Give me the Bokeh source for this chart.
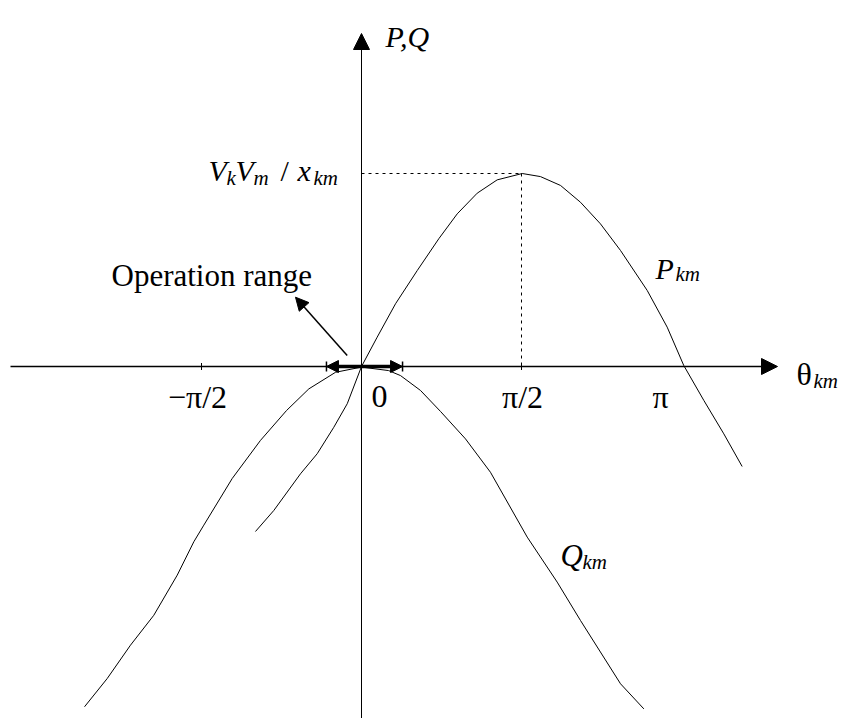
import numpy as np
from bokeh.plotting import figure
from bokeh.models import Range1d, Arrow, NormalHead, ColumnDataSource
from bokeh.core.properties import value
from bokeh.embed import file_html
from bokeh.resources import INLINE

# ---------------- data (theta in rad, P/Q in units of VkVm/xkm) ----------------
theta_P = [-1.041, -0.861, -0.599, -0.435, -0.272, -0.140, 0.0, 0.154, 0.334, 0.547,
           0.759, 0.940, 1.136, 1.332, 1.578, 1.757, 1.954, 2.150, 2.346, 2.543,
           2.805, 3.001, 3.164, 3.361, 3.557, 3.737]
P_km = [-0.855, -0.746, -0.556, -0.452, -0.315, -0.193, 0.0, 0.152, 0.325, 0.497,
        0.662, 0.791, 0.898, 0.967, 1.000, 0.984, 0.938, 0.851, 0.739, 0.601,
        0.394, 0.204, 0.005, -0.176, -0.349, -0.518]

theta_Q = [-2.719, -2.497, -2.268, -2.039, -1.809, -1.646, -1.548, -1.269, -0.992,
           -0.736, -0.517, -0.255, 0.0, 0.265, 0.383, 0.579, 0.776, 1.021, 1.266,
           1.627, 1.921, 2.150, 2.543, 2.772]
Q_km = [-1.763, -1.617, -1.444, -1.289, -1.081, -0.908, -0.822, -0.580, -0.383,
        -0.228, -0.116, -0.030, -0.003, -0.021, -0.047, -0.124, -0.233, -0.375, -0.548,
        -0.884, -1.117, -1.316, -1.644, -1.774]

tick_theta = [-np.pi / 2, np.pi / 2]
label_theta = [-np.pi / 2, 0.0, np.pi / 2, np.pi]
tick_labels = ["\u2212\u03c0/2", "0", "\u03c0/2", "\u03c0"]
peak_theta = np.pi / 2
peak_value = 1.0
op_range = [-0.344, 0.403]

# ---------------- geometry ----------------
W, H = 843, 718
PX_RAD = 160 / (np.pi / 2)      # pixels per radian
PX_UNIT = 193                   # pixels per unit of P/Q
OX, OY = 361, 366               # origin in canvas pixels


def gx(px):
    return (px - OX) / PX_RAD


def gy(py):
    return (OY - py) / PX_UNIT


p = figure(width=W, height=H,
           x_range=Range1d(gx(0), gx(W)), y_range=Range1d(gy(H), gy(0)),
           x_axis_type=None, y_axis_type=None, min_border=0,
           output_backend="svg", toolbar_location=None)
p.grid.visible = False
p.outline_line_color = None
p.background_fill_color = "white"
p.border_fill_color = "white"

FONT = value("Liberation Serif")

# curves
p.line(theta_P, P_km, line_color="black", line_width=1)
p.line(theta_Q, Q_km, line_color="black", line_width=1)

# dotted guides to the peak
p.segment(x0=[0, peak_theta], y0=[peak_value, peak_value],
          x1=[peak_theta, peak_theta], y1=[peak_value, 0],
          line_color="black", line_width=1, line_dash="3 4")

# axes with arrows
p.add_layout(Arrow(end=NormalHead(size=16, fill_color="black", line_color="black"),
                   x_start=gx(10), y_start=0, x_end=gx(777), y_end=0,
                   line_color="black", line_width=1.5))
p.add_layout(Arrow(end=NormalHead(size=16, fill_color="black", line_color="black"),
                   x_start=0, y_start=gy(730), x_end=0, y_end=gy(33),
                   line_color="black", line_width=1))

# ticks
p.scatter(x=tick_theta, y=[0, 0], marker="dash", angle=np.pi / 2, size=7,
          line_color="black", line_width=1)

# operation range
p.add_layout(Arrow(start=NormalHead(size=12, fill_color="black", line_color="black"),
                   end=NormalHead(size=12, fill_color="black", line_color="black"),
                   x_start=op_range[0], y_start=0, x_end=op_range[1], y_end=0,
                   line_color="black", line_width=3.5))
p.scatter(x=op_range, y=[0, 0], marker="dash", angle=np.pi / 2, size=10,
          line_color="black", line_width=1.5)
p.add_layout(Arrow(end=NormalHead(size=13, fill_color="black", line_color="black"),
                   x_start=gx(346.7), y_start=gy(355), x_end=gx(295), y_end=gy(296.7),
                   line_color="black", line_width=1.5))

# tick labels
tl = ColumnDataSource(dict(x=label_theta, y=[0, 0, 0, 0], text=tick_labels,
                           xo=[-4, 18, 1, -21]))
p.text(x="x", y="y", text="text", source=tl, x_offset="xo", y_offset=30,
       text_font=FONT, text_font_size="32px", text_align="center",
       text_baseline="alphabetic", text_color="black")


def label(px, py, txt, size, style="normal"):
    p.text(x=[gx(px)], y=[gy(py)], text=[txt], text_font=FONT,
           text_font_size=size, text_font_style=style, text_align="left",
           text_baseline="alphabetic", text_color="black")


# axis titles
label(385, 36, "P,Q", "30px", "italic")
label(796, 373, "\u03b8", "32px")
label(813, 380, "km", "21px", "italic")

# peak label  V_k V_m / x_km
label(208, 170, "V", "30px", "italic")
label(226, 177, "k", "21px", "italic")
label(235, 170, "V", "30px", "italic")
label(253, 177, "m", "21px", "italic")
label(280, 170, "/", "30px")
label(297, 170, "x", "30px", "italic")
label(313, 177, "km", "21px", "italic")

# curve labels
label(655, 268, "P", "30px", "italic")
label(675, 273, "km", "21px", "italic")
label(560, 555, "Q", "31px", "italic")
label(582, 561, "km", "21px", "italic")

label(111, 275, "Operation range", "31px")

open("out.html", "w").write(file_html(p, INLINE))
